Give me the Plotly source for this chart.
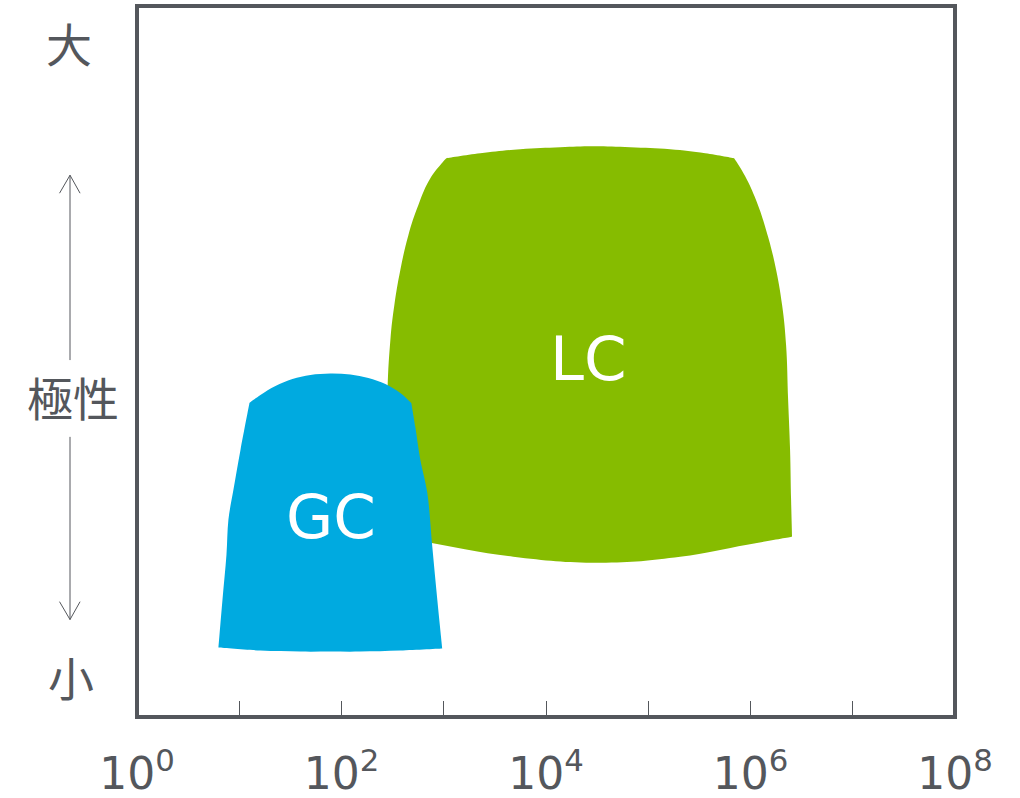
import plotly.graph_objects as go

# ---- data (x: log10 of molecular weight, y: polarity 0-100) ----
gc_log_mw = [0.797, 0.797, 0.836, 0.875, 0.894, 0.943, 1.012, 1.100, 1.100,
             1.207, 1.354, 1.520, 1.696, 1.891, 2.087, 2.263, 2.429, 2.575, 2.683, 2.683,
             2.722, 2.771, 2.839, 2.888, 2.937, 2.986, 2.986,
             2.575, 2.184, 1.891, 1.598, 1.207, 0.797]
gc_polarity = [9.76, 9.76, 16.50, 22.82, 27.74, 31.95, 37.57, 44.17, 44.17,
               45.29, 46.56, 47.54, 48.10, 48.31, 48.17, 47.68, 46.84, 45.58, 44.17, 44.17,
               40.80, 36.17, 31.53, 23.95, 16.50, 9.62, 9.62,
               9.34, 9.20, 9.20, 9.20, 9.34, 9.76]

lc_log_mw = [3.025, 3.025, 3.357, 3.748, 4.139, 4.462, 4.823, 5.214, 5.557, 5.840, 5.840,
             5.948, 6.055, 6.153, 6.241, 6.309, 6.348, 6.368, 6.387, 6.397, 6.407, 6.407,
             5.967, 5.312, 4.530, 3.680, 2.869, 2.527, 2.527,
             2.458, 2.448, 2.478, 2.517, 2.575, 2.654, 2.751, 2.869, 3.025]
lc_polarity = [78.58, 78.58, 79.28, 79.85, 80.13, 80.27, 80.13, 79.85, 79.28, 78.58, 78.58,
               76.05, 72.68, 68.47, 63.55, 57.94, 52.32, 44.59, 37.57, 30.55, 25.35, 25.35,
               24.23, 22.54, 21.70, 22.54, 24.51, 25.35, 25.35,
               33.36, 44.59, 53.02, 57.94, 62.85, 67.77, 71.98, 75.77, 78.58]

region_names = ["GC", "LC"]
label_log_mw = [1.901, 4.413]
label_polarity = [28.2, 50.4]

tick_exponents = [0, 1, 2, 3, 4, 5, 6, 7, 8]
y_labels = ["大", "極性", "小"]

# ---- styling ----
GREY = "#54575c"
GC_COLOR = "#00aae0"
LC_COLOR = "#86bc00"
LATIN = "DejaVu Sans"
CJK = "Noto Sans CJK JP"

fig = go.Figure()
fig.add_trace(go.Scatter(x=[10 ** v for v in lc_log_mw], y=lc_polarity, mode="lines",
                         fill="toself", fillcolor=LC_COLOR,
                         line=dict(width=0, color=LC_COLOR, shape="spline", smoothing=1.2),
                         hoverinfo="skip"))
fig.add_trace(go.Scatter(x=[10 ** v for v in gc_log_mw], y=gc_polarity, mode="lines",
                         fill="toself", fillcolor=GC_COLOR,
                         line=dict(width=0, color=GC_COLOR, shape="spline", smoothing=1.0),
                         hoverinfo="skip"))

for name, lx, ly in zip(region_names, label_log_mw, label_polarity):
    fig.add_annotation(x=lx, y=ly, xref="x", yref="y", text=name, showarrow=False,
                       font=dict(family=LATIN, size=61, color="white"))

# y-axis descriptive labels
for txt, px, py in zip(y_labels, [-0.0837, -0.0788, -0.0812], [0.950, 0.452, 0.058]):
    fig.add_annotation(x=px, y=py, xref="paper", yref="paper", text=txt, showarrow=False,
                       xanchor="center", yanchor="middle",
                       font=dict(family=CJK, size=46, color=GREY))

# arrows (decorative)
ax = -0.0819
arrow_paths = [
    f"M {ax},0.502 L {ax},0.762",
    f"M -0.0947,0.7367 L {ax},0.762 L -0.0696,0.7367",
    f"M {ax},0.394 L {ax},0.137",
    f"M -0.0947,0.1622 L {ax},0.137 L -0.0696,0.1622",
]
for p in arrow_paths:
    fig.add_shape(type="path", path=p, xref="paper", yref="paper",
                  line=dict(color=GREY, width=1))

# frame
fig.add_shape(type="rect", xref="paper", yref="paper", x0=0, x1=1, y0=0, y1=1,
              line=dict(color=GREY, width=4), layer="above")

fig.update_xaxes(type="log", range=[0, 8], automargin=False,
                 tickvals=[10 ** e for e in tick_exponents],
                 ticktext=[f"10<sup>{e}</sup>" if e % 2 == 0 else "" for e in tick_exponents],
                 ticks="inside", ticklen=16, tickwidth=1, tickcolor=GREY,
                 ticklabelstandoff=27,
                 tickfont=dict(family=LATIN, size=44, color=GREY),
                 showgrid=False, zeroline=False, showline=False, fixedrange=True)
fig.update_yaxes(range=[0, 100], showticklabels=False, ticks="", showgrid=False,
                 zeroline=False, showline=False, fixedrange=True, automargin=False)

fig.update_layout(width=1020, height=798,
                  margin=dict(l=136.5, r=65, t=5.5, b=80.5, autoexpand=False),
                  plot_bgcolor="white", paper_bgcolor="white",
                  showlegend=False, hovermode=False)

fig.write_html("out.html", config={"displayModeBar": False},
               post_script="document.body.style.margin='0';document.body.style.overflow='hidden';")
